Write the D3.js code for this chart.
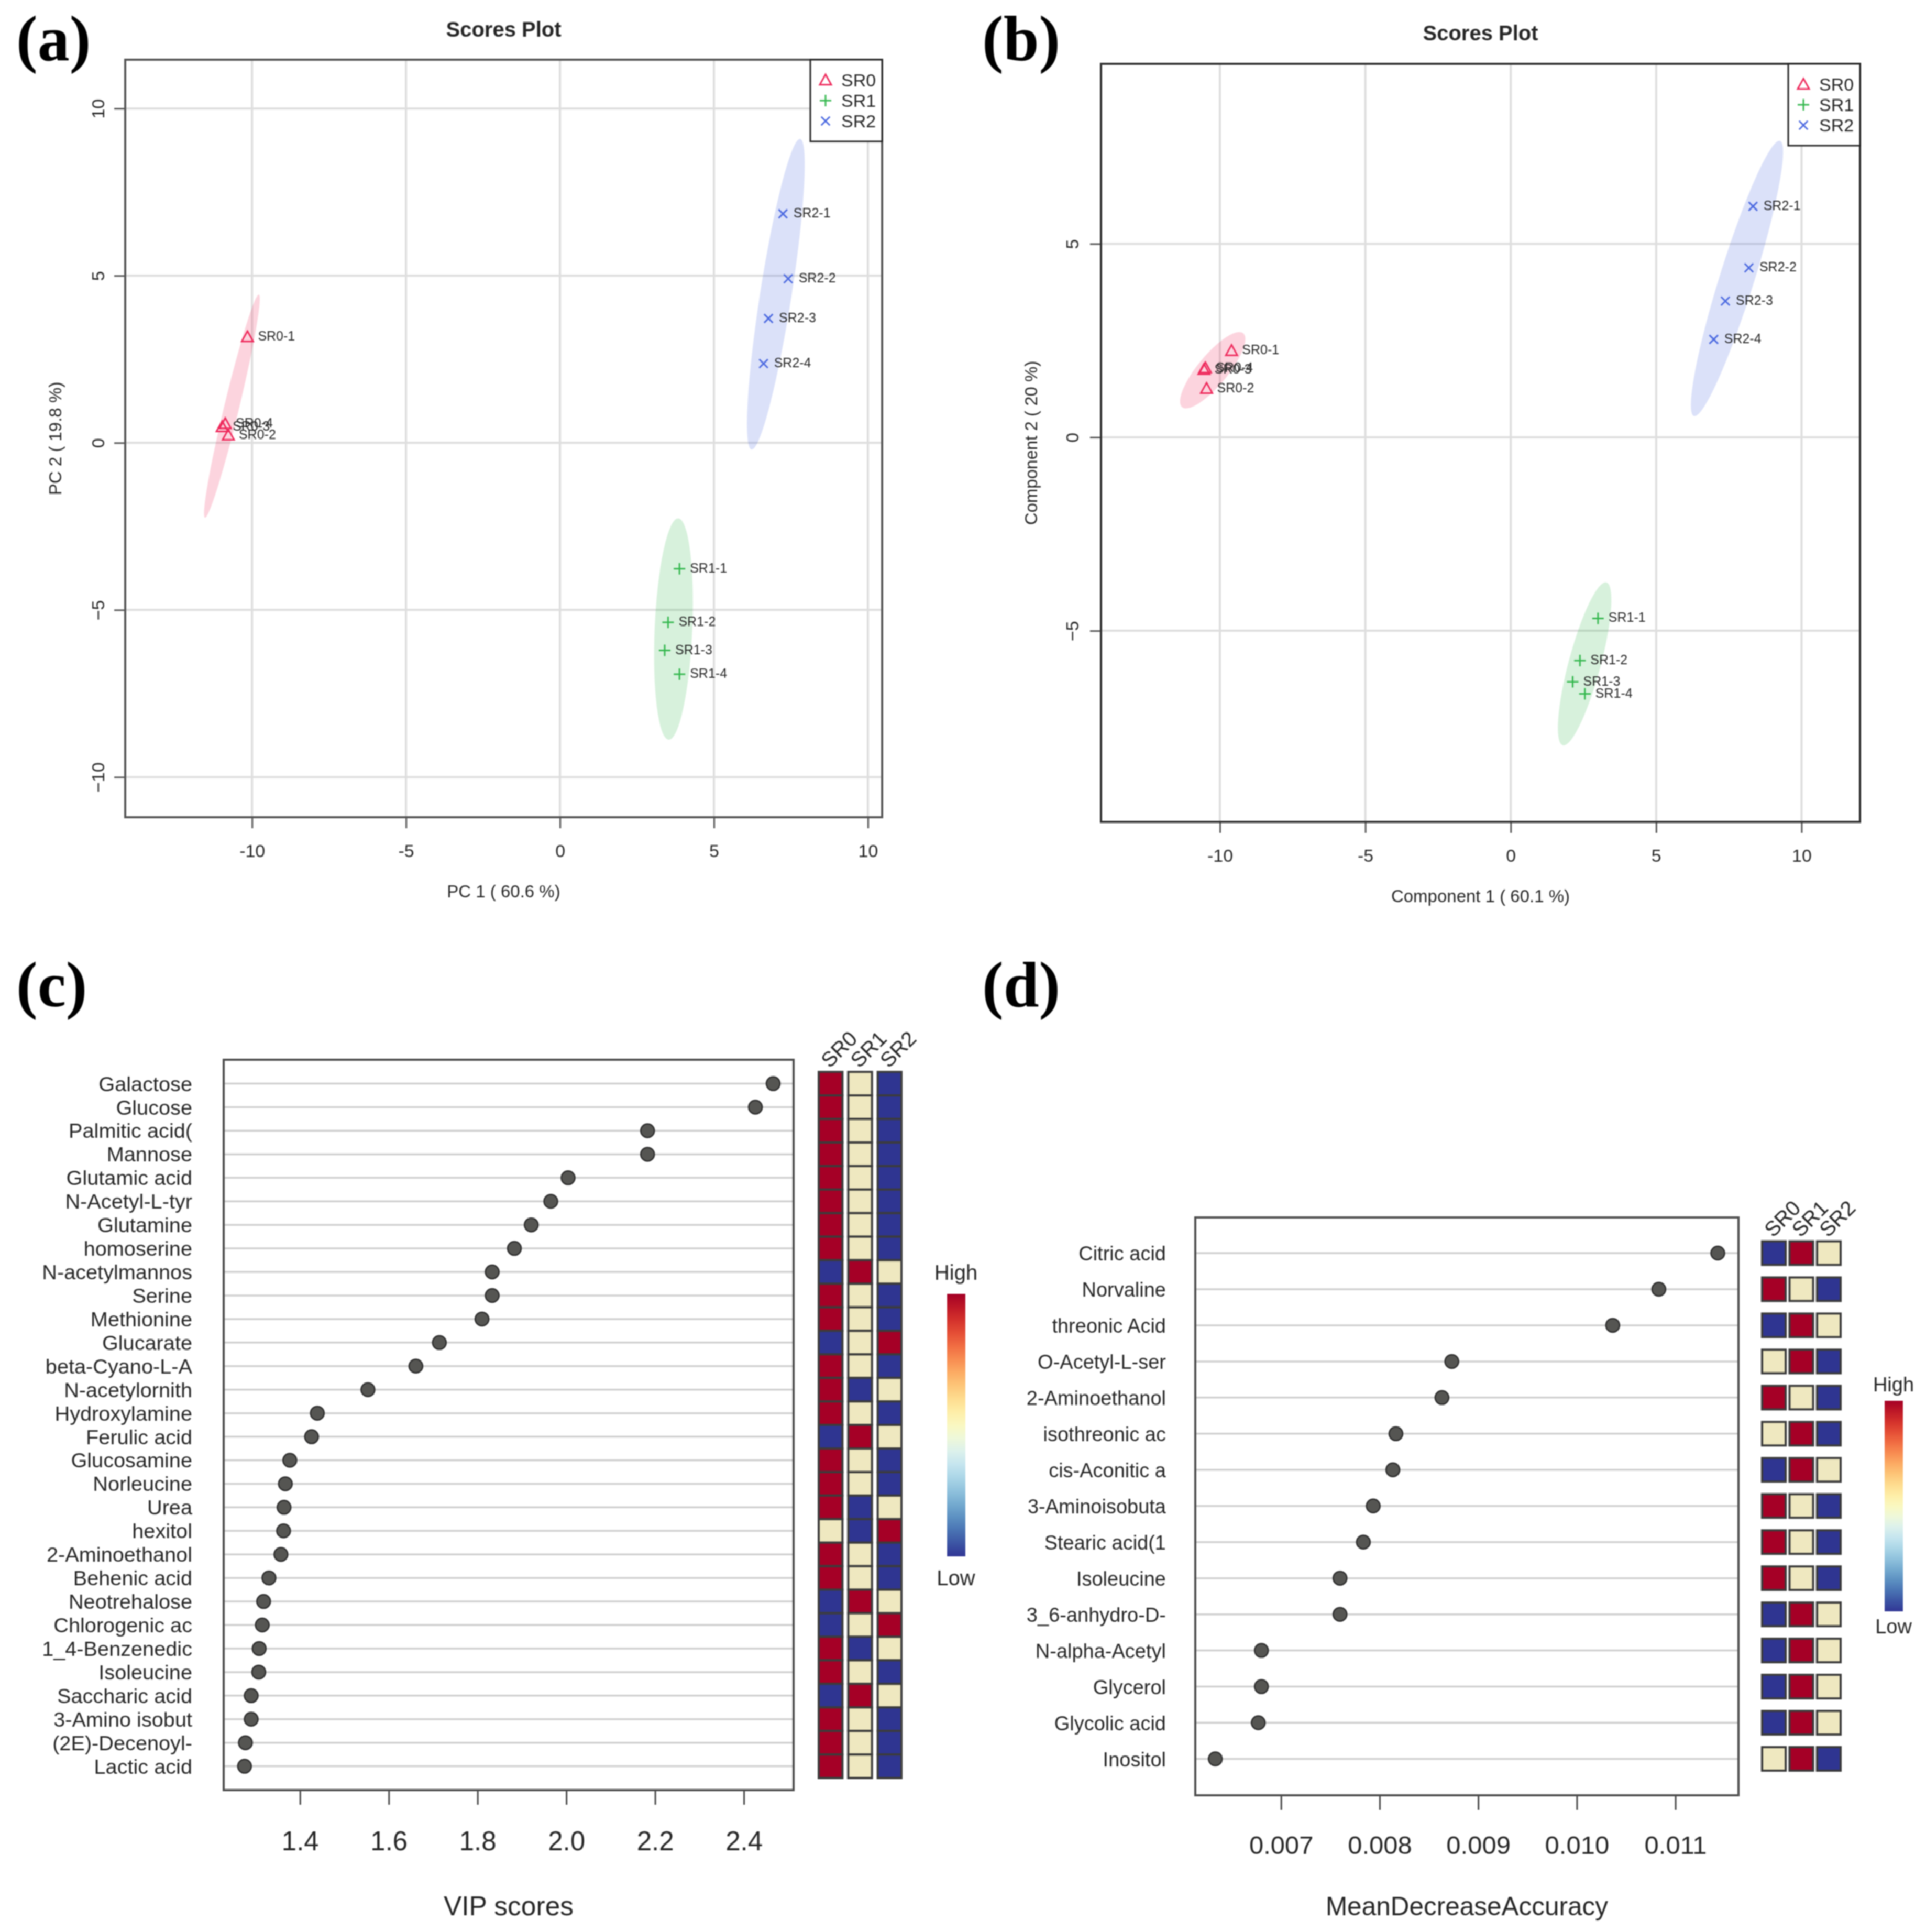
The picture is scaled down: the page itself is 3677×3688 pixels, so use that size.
<!DOCTYPE html>
<html lang="en">
<head>
<meta charset="UTF-8">
<title>Scores plots and variable importance</title>
<script src="https://cdn.jsdelivr.net/npm/d3@7"></script>
<style>
    body { margin: 0; background: #fff; }
    svg { display: block; font-family: "Liberation Sans", Arial, sans-serif; filter: blur(1.1px); }
    text { fill: #262626; }
</style>
</head>
<body>
<svg width="3677" height="3688"></svg>
<script>
    const groups = ["SR0", "SR1", "SR2"];
    const groupColors = ["#ee2a5c", "#35b84f", "#4a68e0"];
    const groupShapes = ["triangle", "plus", "times"];
    const sampleNames = ["SR0-1", "SR0-2", "SR0-3", "SR0-4", "SR1-1", "SR1-2", "SR1-3", "SR1-4", "SR2-1", "SR2-2", "SR2-3", "SR2-4"];
    const sampleGroups = [0, 0, 0, 0, 1, 1, 1, 1, 2, 2, 2, 2];

    // panel a, PCA scores
    const pcaX = [-10.15, -10.77, -10.97, -10.87, 3.88, 3.51, 3.40, 3.88, 7.24, 7.41, 6.77, 6.61];
    const pcaY = [3.17, 0.23, 0.48, 0.57, -3.77, -5.37, -6.21, -6.92, 6.85, 4.91, 3.72, 2.37];
    // tip to tip of each ellipse, then width/length
    const pcaEllipses = [
        [-9.78, 4.43, -11.53, -2.24, 0.065],
        [3.84, -2.26, 3.53, -8.88, 0.17],
        [7.8, 9.09, 6.22, -0.2, 0.1]
    ];

    // panel b, PLS-DA scores
    const plsX = [-9.6, -10.46, -10.55, -10.5, 3.0, 2.38, 2.13, 2.55, 8.33, 8.19, 7.38, 6.98];
    const plsY = [2.24, 1.26, 1.75, 1.79, -4.68, -5.77, -6.32, -6.63, 5.97, 4.38, 3.52, 2.53];
    const plsEllipses = [
        [-9.2, 2.69, -11.3, 0.78, 0.313],
        [3.29, -3.75, 1.79, -7.96, 0.19],
        [9.26, 7.66, 6.3, 0.55, 0.12]
    ];

    // panel c, VIP scores
    const vipNames = ["Galactose", "Glucose", "Palmitic acid(", "Mannose", "Glutamic acid", "N-Acetyl-L-tyr", "Glutamine", "homoserine", "N-acetylmannos", "Serine", "Methionine", "Glucarate", "beta-Cyano-L-A", "N-acetylornith", "Hydroxylamine", "Ferulic acid", "Glucosamine", "Norleucine", "Urea", "hexitol", "2-Aminoethanol", "Behenic acid", "Neotrehalose", "Chlorogenic ac", "1_4-Benzenedic", "Isoleucine", "Saccharic acid", "3-Amino isobut", "(2E)-Decenoyl-", "Lactic acid"];
    const vipValues = [2.466, 2.426, 2.183, 2.183, 2.004, 1.965, 1.921, 1.883, 1.833, 1.833, 1.810, 1.714, 1.661, 1.553, 1.439, 1.426, 1.377, 1.367, 1.364, 1.363, 1.357, 1.330, 1.318, 1.315, 1.308, 1.307, 1.290, 1.290, 1.277, 1.275];
    // 1 high, 0 middle, -1 low
    const vipSR0 = [1, 1, 1, 1, 1, 1, 1, 1, -1, 1, 1, -1, 1, 1, 1, -1, 1, 1, 1, 0, 1, 1, -1, -1, 1, 1, -1, 1, 1, 1];
    const vipSR1 = [0, 0, 0, 0, 0, 0, 0, 0, 1, 0, 0, 0, 0, -1, 0, 1, 0, 0, -1, -1, 0, 0, 1, 0, -1, 0, 1, 0, 0, 0];
    const vipSR2 = [-1, -1, -1, -1, -1, -1, -1, -1, 0, -1, -1, 1, -1, 0, -1, 0, -1, -1, 0, 1, -1, -1, 0, 1, 0, -1, 0, -1, -1, -1];

    // panel d, random forest importance
    const mdaNames = ["Citric acid", "Norvaline", "threonic Acid", "O-Acetyl-L-ser", "2-Aminoethanol", "isothreonic ac", "cis-Aconitic a", "3-Aminoisobuta", "Stearic acid(1", "Isoleucine", "3_6-anhydro-D-", "N-alpha-Acetyl", "Glycerol", "Glycolic acid", "Inositol"];
    const mdaValues = [0.01143, 0.010832, 0.010364, 0.008732, 0.008632, 0.008165, 0.008134, 0.007935, 0.007835, 0.007598, 0.007598, 0.006801, 0.006801, 0.006769, 0.006333];
    const mdaSR0 = [-1, 1, -1, 0, 1, 0, -1, 1, 1, 1, -1, -1, -1, -1, 0];
    const mdaSR1 = [1, 0, 1, 1, 0, 1, 1, 0, 0, 0, 1, 1, 1, 1, 1];
    const mdaSR2 = [0, -1, 0, -1, -1, -1, 0, -1, -1, -1, 0, 0, 0, 0, -1];

    const svg = d3.select("svg");
    const cellColor = d3.scaleLinear().domain([-1, 0, 1]).range(["#2f3591", "#efe8c0", "#a50026"]);

    function markerPath(shape, r) {
        const p = d3.path();
        if (shape === "triangle") {
            p.moveTo(0, -r);
            p.lineTo(r, r * 0.8);
            p.lineTo(-r, r * 0.8);
            p.closePath();
        } else if (shape === "plus") {
            p.moveTo(-r, 0); p.lineTo(r, 0);
            p.moveTo(0, -r); p.lineTo(0, r);
        } else {
            const d = r * 0.75;
            p.moveTo(-d, -d); p.lineTo(d, d);
            p.moveTo(-d, d); p.lineTo(d, -d);
        }
        return p.toString();
    }

    function panelLetter(text, x, y) {
        svg.append("text").attr("x", x).attr("y", y).text(text)
            .style("font-family", "'Liberation Serif', serif")
            .style("font-weight", "bold").style("font-size", "122px").style("fill", "#000");
    }

    function scoresPlot(o) {
        const g = svg.append("g");
        const x = d3.scaleLinear().domain(o.xDomain).range([o.left, o.right]);
        const y = d3.scaleLinear().domain(o.yDomain).range([o.bottom, o.top]);

        // grid
        g.selectAll(".gx").data(o.xTicks).join("line")
            .attr("x1", d => x(d)).attr("x2", d => x(d)).attr("y1", o.top).attr("y2", o.bottom)
            .attr("stroke", "#dedede").attr("stroke-width", 4);
        g.selectAll(".gy").data(o.yTicks).join("line")
            .attr("y1", d => y(d)).attr("y2", d => y(d)).attr("x1", o.left).attr("x2", o.right)
            .attr("stroke", "#dedede").attr("stroke-width", 4);

        // ellipses
        g.selectAll(".ell").data(o.ellipses).join("ellipse")
            .each(function (e, i) {
                const x1 = x(e[0]), y1 = y(e[1]), x2 = x(e[2]), y2 = y(e[3]);
                const len = Math.hypot(x2 - x1, y2 - y1) / 2;
                const ang = Math.atan2(y2 - y1, x2 - x1) * 180 / Math.PI;
                const cx = (x1 + x2) / 2, cy = (y1 + y2) / 2;
                d3.select(this)
                    .attr("rx", len).attr("ry", len * e[4])
                    .attr("transform", `translate(${cx},${cy}) rotate(${ang})`)
                    .attr("fill", groupColors[i]).attr("fill-opacity", 0.2);
            });

        // axes
        const ax = g.append("g").attr("transform", `translate(0,${o.bottom})`)
            .call(d3.axisBottom(x).tickValues(o.xTicks).tickFormat(d3.format("d")).tickSize(21).tickPadding(31));
        const ay = g.append("g").attr("transform", `translate(${o.left},0)`)
            .call(d3.axisLeft(y).tickValues(o.yTicks).tickFormat(d3.format("d")).tickSize(21));
        [ax, ay].forEach(a => {
            a.select(".domain").remove();
            a.selectAll("line").attr("stroke", "#555").attr("stroke-width", 3);
            a.selectAll("text").style("font-size", "34px").style("font-family", "inherit");
        });
        ax.selectAll("text").text(d => String(d));
        ay.selectAll("text")
            .attr("text-anchor", "middle").attr("x", 0).attr("dy", 0)
            .attr("transform", `translate(${o.yTickX - o.left},0) rotate(-90)`);

        // frame
        g.append("rect").attr("x", o.left).attr("y", o.top)
            .attr("width", o.right - o.left).attr("height", o.bottom - o.top)
            .attr("fill", "none").attr("stroke", o.frame).attr("stroke-width", 4);

        // points
        g.selectAll(".pt").data(o.names).join("path")
            .attr("transform", (d, i) => `translate(${x(o.xs[i])},${y(o.ys[i])})`)
            .attr("d", (d, i) => markerPath(groupShapes[sampleGroups[i]], 11))
            .attr("fill", "none").attr("stroke", (d, i) => groupColors[sampleGroups[i]]).attr("stroke-width", 3);
        g.selectAll(".lab").data(o.names).join("text")
            .attr("x", (d, i) => x(o.xs[i]) + 20)
            .attr("y", (d, i) => y(o.ys[i]) + 7)
            .text(d => d).style("font-size", "25px");

        // legend
        const lx = o.right - 137, lh = 156;
        g.append("rect").attr("x", lx).attr("y", o.top).attr("width", 137).attr("height", lh)
            .attr("fill", "#fff").attr("stroke", "#222").attr("stroke-width", 3);
        groups.forEach((name, i) => {
            const ly = o.top + 39 + i * 39;
            g.append("path").attr("transform", `translate(${lx + 29},${ly})`)
                .attr("d", markerPath(groupShapes[i], 11))
                .attr("fill", "none").attr("stroke", groupColors[i]).attr("stroke-width", 3);
            g.append("text").attr("x", lx + 59).attr("y", ly + 12).text(name).style("font-size", "34px");
        });

        // titles
        const mid = (o.left + o.right) / 2;
        g.append("text").attr("x", mid).attr("y", o.titleY).attr("text-anchor", "middle")
            .text("Scores Plot").style("font-size", "40px").style("font-weight", "bold");
        g.append("text").attr("x", mid).attr("y", o.xLabelY).attr("text-anchor", "middle")
            .text(o.xLabel).style("font-size", "33px");
        g.append("text").attr("text-anchor", "middle")
            .attr("transform", `translate(${o.yLabelX},${(o.top + o.bottom) / 2}) rotate(-90)`)
            .text(o.yLabel).style("font-size", "33px");
    }

    function importancePlot(o) {
        const g = svg.append("g");
        const x = d3.scaleLinear().domain(o.xDomain).range([o.left, o.right]);
        const y = d3.scalePoint().domain(o.names).range([o.firstY, o.lastY]);

        g.selectAll(".row").data(o.names).join("line")
            .attr("x1", o.left).attr("x2", o.right).attr("y1", d => y(d)).attr("y2", d => y(d))
            .attr("stroke", "#cfcfcf").attr("stroke-width", 3.5);

        g.append("g").attr("transform", `translate(0,${o.bottom})`)
            .call(d3.axisBottom(x).tickValues(o.ticks).tickFormat(d3.format(o.tickFormat)).tickSize(28).tickPadding(o.tickPad))
            .call(a => a.select(".domain").remove())
            .call(a => a.selectAll("line").attr("stroke", "#444").attr("stroke-width", 3))
            .call(a => a.selectAll("text").style("font-size", o.tickFont + "px").style("font-family", "inherit"));

        g.append("rect").attr("x", o.left).attr("y", o.top)
            .attr("width", o.right - o.left).attr("height", o.bottom - o.top)
            .attr("fill", "none").attr("stroke", "#4d4d4d").attr("stroke-width", 4);

        g.selectAll(".lab").data(o.names).join("text")
            .attr("x", o.labelX).attr("y", d => y(d) + 14).attr("text-anchor", "end")
            .text(d => d).style("font-size", o.labelFont + "px");

        g.selectAll(".dot").data(o.names).join("circle")
            .attr("cx", (d, i) => x(o.values[i])).attr("cy", d => y(d)).attr("r", 13)
            .attr("fill", "#555552").attr("stroke", "#2a2a2a").attr("stroke-width", 2.5);

        g.append("text").attr("x", (o.left + o.right) / 2).attr("y", 3656).attr("text-anchor", "middle")
            .text(o.xLabel).style("font-size", o.titleFont + "px");

        // heat columns
        const col = d3.scaleBand().domain(groups).range(o.heatRange).paddingInner(o.heatGap);
        o.heat.forEach((vals, j) => {
            g.selectAll(".c" + j).data(vals).join("rect")
                .attr("x", col(groups[j]))
                .attr("y", (d, i) => y(o.names[i]) - o.cellH / 2)
                .attr("width", col.bandwidth()).attr("height", o.cellH)
                .attr("fill", d => cellColor(d)).attr("stroke", "#3c3c3c").attr("stroke-width", 4);
            g.append("text")
                .attr("transform", `translate(${col(groups[j]) + 21},${y(o.names[0]) - o.cellH / 2 - 6}) rotate(-45)`)
                .text(groups[j]).style("font-size", "40px");
        });

        // colour bar
        const id = "bar" + o.barX;
        const stops = d3.range(0, 1.01, 0.05);
        g.append("defs").append("linearGradient").attr("id", id)
            .attr("x1", 0).attr("x2", 0).attr("y1", 0).attr("y2", 1)
            .selectAll("stop").data(stops).join("stop")
            .attr("offset", d => d).attr("stop-color", d => d3.interpolateRdYlBu(d));
        g.append("rect").attr("x", o.barX).attr("y", o.barTop).attr("width", 35)
            .attr("height", o.barBottom - o.barTop).attr("fill", `url(#${id})`);
        g.append("text").attr("x", o.barX + 17).attr("y", o.highY).attr("text-anchor", "middle")
            .text("High").style("font-size", o.barFont + "px");
        g.append("text").attr("x", o.barX + 17).attr("y", o.lowY).attr("text-anchor", "middle")
            .text("Low").style("font-size", o.barFont + "px");
    }

    scoresPlot({
        left: 239, right: 1684, top: 114, bottom: 1560,
        xDomain: [-14.12, 10.46], yDomain: [-11.2, 11.46],
        xTicks: [-10, -5, 0, 5, 10], yTicks: [-10, -5, 0, 5, 10],
        xs: pcaX, ys: pcaY, names: sampleNames, ellipses: pcaEllipses,
        yTickX: 199, frame: "#555",
        titleY: 70, xLabelY: 1713, yLabelX: 117,
        xLabel: "PC 1 ( 60.6 %)", yLabel: "PC 2 ( 19.8 %)"
    });
    scoresPlot({
        left: 2102, right: 3551, top: 122, bottom: 1569,
        xDomain: [-14.09, 12.01], yDomain: [-9.94, 9.65],
        xTicks: [-10, -5, 0, 5, 10], yTicks: [-5, 0, 5],
        xs: plsX, ys: plsY, names: sampleNames, ellipses: plsEllipses,
        yTickX: 2059, frame: "#333",
        titleY: 77, xLabelY: 1722, yLabelX: 1980,
        xLabel: "Component 1 ( 60.1 %)", yLabel: "Component 2 ( 20 %)"
    });
    importancePlot({
        left: 427, right: 1515, top: 2023, bottom: 3417,
        xDomain: [1.228, 2.512], ticks: [1.4, 1.6, 1.8, 2.0, 2.2, 2.4], tickFormat: ".1f",
        tickPad: 51, tickFont: 51, labelX: 367, labelFont: 39.7, titleFont: 51.5,
        names: vipNames, values: vipValues, firstY: 2068.6, lastY: 3371.6,
        heat: [vipSR0, vipSR1, vipSR2], heatRange: [1563, 1721], heatGap: 0.195, cellH: 44.8,
        barX: 1808, barTop: 2470, barBottom: 2971, barFont: 40, highY: 2443, lowY: 3026,
        xLabel: "VIP scores"
    });
    importancePlot({
        left: 2282, right: 3319, top: 2324, bottom: 3427,
        xDomain: [0.00613, 0.01164], ticks: [0.007, 0.008, 0.009, 0.010, 0.011], tickFormat: ".3f",
        tickPad: 49, tickFont: 49, labelX: 2226, labelFont: 38, titleFont: 49.5,
        names: mdaNames, values: mdaValues, firstY: 2392, lastY: 3357.5,
        heat: [mdaSR0, mdaSR1, mdaSR2], heatRange: [3364, 3514], heatGap: 0.14, cellH: 45,
        barX: 3598, barTop: 2674, barBottom: 3076, barFont: 38, highY: 2656, lowY: 3118,
        xLabel: "MeanDecreaseAccuracy"
    });

    panelLetter("(a)", 31, 115);
    panelLetter("(b)", 1875, 115);
    panelLetter("(c)", 31, 1921);
    panelLetter("(d)", 1875, 1921);
</script>
</body>
</html>
